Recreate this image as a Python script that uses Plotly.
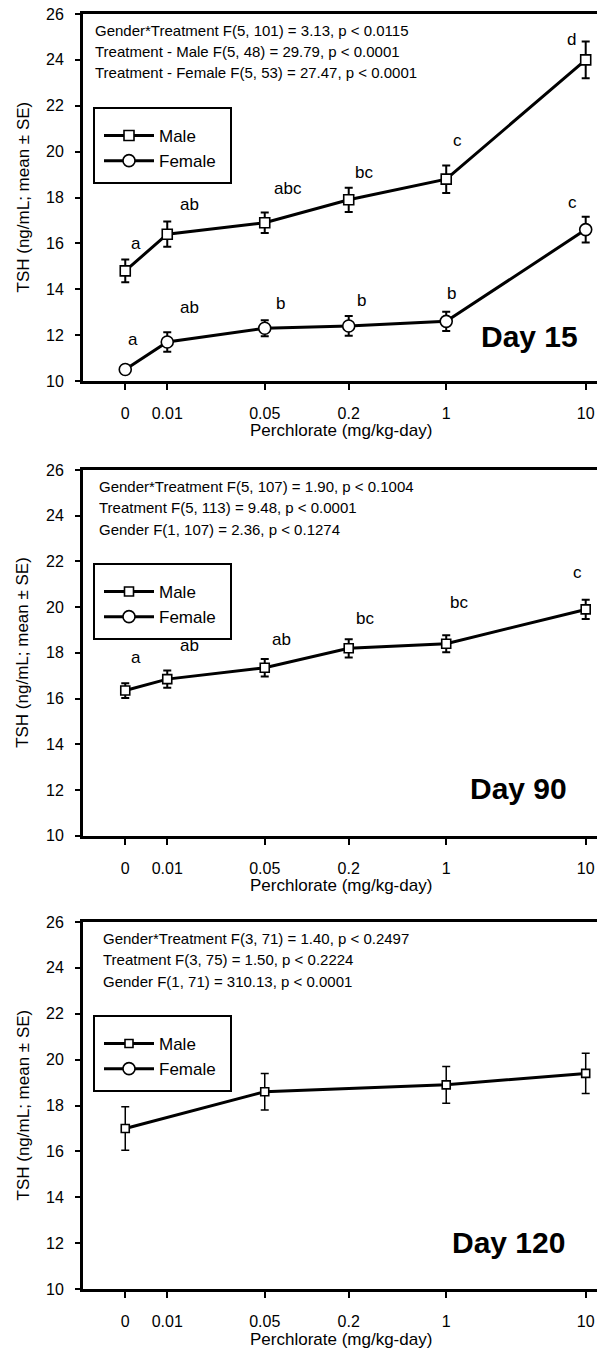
import math
import plotly.graph_objects as go

# ---------------- data ----------------
doses = [0, 0.01, 0.05, 0.2, 1, 10]
dose_labels = ["0", "0.01", "0.05", "0.2", "1", "10"]

d15_male = [14.8, 16.4, 16.9, 17.9, 18.8, 24.0]
d15_male_se = [0.5, 0.55, 0.45, 0.53, 0.6, 0.8]
d15_female = [10.5, 11.7, 12.3, 12.4, 12.6, 16.6]
d15_female_se = [0.2, 0.42, 0.35, 0.43, 0.42, 0.56]

d90_doses = [0, 0.01, 0.05, 0.2, 1, 10]
d90_male = [16.35, 16.85, 17.35, 18.2, 18.4, 19.9]
d90_male_se = [0.32, 0.38, 0.38, 0.4, 0.37, 0.42]

d120_doses = [0, 0.05, 1, 10]
d120_male = [17.0, 18.6, 18.9, 19.4]
d120_male_se = [0.95, 0.8, 0.8, 0.88]

d15_male_letters = ["a", "ab", "abc", "bc", "c", "d"]
d15_female_letters = ["a", "ab", "b", "b", "b", "c"]
d90_letters = ["a", "ab", "ab", "bc", "bc", "c"]

stats_d15 = ["Gender*Treatment F(5, 101) = 3.13, p &lt; 0.0115",
             "Treatment - Male F(5, 48) = 29.79, p &lt; 0.0001",
             "Treatment - Female F(5, 53) = 27.47, p &lt; 0.0001"]
stats_d90 = ["Gender*Treatment F(5, 107) = 1.90, p &lt; 0.1004",
             "Treatment F(5, 113) = 9.48, p &lt; 0.0001",
             "Gender F(1, 107) = 2.36, p &lt; 0.1274"]
stats_d120 = ["Gender*Treatment F(3, 71) = 1.40, p &lt; 0.2497",
              "Treatment F(3, 75) = 1.50, p &lt; 0.2224",
              "Gender F(1, 71) = 310.13, p &lt; 0.0001"]

# ---------------- layout / style ----------------
W, H = 597, 1351
# plot area in page pixels
PX_L, PX_R, PX_T, PX_B = 83, 597, 14, 1289
ML, MT, MR, MB = PX_L, PX_T, W - PX_R, H - PX_B
PW = PX_R - PX_L
PH = PX_B - PX_T
ZERO_POS = 0.005  # where the control (0) dose is placed on the log axis
FONT = "Liberation Sans, Arial, sans-serif"


def fx(px):
    return (px - PX_L) / PW


def fy(py):
    return (PX_B - py) / PH


def xp(d):
    return d if d > 0 else ZERO_POS


# panel pixel geometry: (top, bottom)
panels = [(14, 381), (470, 835.7), (922, 1289)]

# letter label placement (y value, x shift px)
pos_d15_m = [(16.0, 11), (17.7, 22), (18.4, 23), (19.1, 15), (20.5, 11), (24.9, -14)]
pos_d15_f = [(11.8, 8), (13.2, 22), (13.4, 16), (13.5, 13), (13.8, 5), (17.8, -13)]
pos_d90 = [(17.8, 11), (18.3, 22), (18.6, 17), (19.5, 16), (20.2, 13), (21.5, -8)]

fig = go.Figure()


def add_series(x, y, se, name, symbol, msize, axis_i, legend, ebw=2, lw=3):
    xa = "x" if axis_i == 1 else f"x{axis_i}"
    ya = "y" if axis_i == 1 else f"y{axis_i}"
    fig.add_trace(go.Scatter(
        x=[xp(d) for d in x] if x else [None], y=y if y else [None],
        error_y=dict(type="data", array=se, thickness=ebw, width=4, color="black") if se else None,
        mode="lines+markers", name=name,
        line=dict(color="black", width=lw),
        marker=dict(symbol=symbol, size=msize, color="white", line=dict(color="black", width=1.6)),
        xaxis=xa, yaxis=ya, legend=legend, showlegend=True))


add_series(doses, d15_male, d15_male_se, "Male", "square", 10, 1, "legend")
add_series(doses, d15_female, d15_female_se, "Female", "circle", 12, 1, "legend")
add_series(d90_doses, d90_male, d90_male_se, "Male", "square", 9, 2, "legend2")
add_series(None, None, None, "Female", "circle", 12, 2, "legend2")
add_series(d120_doses, d120_male, d120_male_se, "Male", "square", 8, 3, "legend3", ebw=1.5)
add_series(None, None, None, "Female", "circle", 12, 3, "legend3")

axis_common = dict(showgrid=False, zeroline=False, showline=True, linecolor="black",
                   linewidth=3, ticks="outside", tickcolor="black", tickwidth=2)

annotations = []
shapes = []
legends = {}
for i, (top, bot) in enumerate(panels, start=1):
    sfx = "" if i == 1 else str(i)
    fig.layout[f"xaxis{sfx}"] = dict(
        type="log", range=[-2.604, 1.081], domain=[0, 1], anchor=f"y{sfx}",
        tickvals=[xp(d) for d in doses], ticktext=dose_labels, mirror=True,
        ticklen=6, ticklabelstandoff=10, tickfont=dict(size=16, family=FONT, color="black"),
        **axis_common)
    fig.layout[f"yaxis{sfx}"] = dict(
        range=[10, 26], domain=[fy(bot), fy(top)], anchor=f"x{sfx}",
        tickvals=list(range(10, 27, 2)), ticklen=5, ticklabelstandoff=8,
        tickfont=dict(size=16, family=FONT, color="black"), **axis_common)
    # y title
    annotations.append(dict(text="TSH (ng/mL; mean ± SE)", xref="paper", yref="paper",
                            x=fx(23), y=fy((top + bot) / 2), textangle=-90, showarrow=False,
                            font=dict(size=17, family=FONT, color="black"),
                            xanchor="center", yanchor="middle"))
    # x title
    annotations.append(dict(text="Perchlorate (mg/kg-day)", xref="paper", yref="paper",
                            x=fx(341), y=fy(bot + 50), showarrow=False,
                            font=dict(size=17, family=FONT, color="black"),
                            xanchor="center", yanchor="middle"))
    # legend box
    shapes.append(dict(type="rect", xref="paper", yref="paper",
                       x0=fx(94), x1=fx(231), y0=fy(top + 94), y1=fy(top + 169),
                       line=dict(color="black", width=2), fillcolor="rgba(0,0,0,0)"))
    legends["legend" if i == 1 else f"legend{i}"] = dict(
        x=fx(99), y=fy(top + 104), xanchor="left", yanchor="top",
        bgcolor="rgba(0,0,0,0)", borderwidth=0, itemwidth=50,
        font=dict(size=17, family=FONT, color="black"), tracegroupgap=0)

# stats text
for (top, bot), lines, x0 in zip(panels, [stats_d15, stats_d90, stats_d120], [93, 97, 101]):
    for k, t in enumerate(lines):
        annotations.append(dict(text=t, xref="paper", yref="paper", x=fx(x0),
                                y=fy(top + [16, 37, 59][k]), showarrow=False,
                                xanchor="left", yanchor="middle",
                                font=dict(size=15, family=FONT, color="black")))

# Day labels
for (top, bot), t, right, dy in zip(panels, ["Day 15", "Day 90", "Day 120"], [580, 569, 567], [44, 47, 47]):
    annotations.append(dict(text=f"<b>{t}</b>", xref="paper", yref="paper", x=fx(right),
                            y=fy(bot - dy), showarrow=False, xanchor="right", yanchor="middle",
                            font=dict(size=30, family=FONT, color="black")))

# significance letters
for letters, pos, xs, xa, ya in [(d15_male_letters, pos_d15_m, doses, "x", "y"),
                                 (d15_female_letters, pos_d15_f, doses, "x", "y"),
                                 (d90_letters, pos_d90, d90_doses, "x2", "y2")]:
    for L, (yv, sh), d in zip(letters, pos, xs):
        annotations.append(dict(text=L, x=math.log10(xp(d)), y=yv, xref=xa, yref=ya,
                                xshift=sh, showarrow=False, xanchor="center", yanchor="middle",
                                font=dict(size=17, family=FONT, color="black")))

fig.update_layout(width=W, height=H, margin=dict(l=ML, r=MR, t=MT, b=MB),
                  plot_bgcolor="white", paper_bgcolor="white",
                  annotations=annotations, shapes=shapes, **legends,
                  font=dict(family=FONT, color="black"))

# remove the page's default body margin so the figure fills the window exactly
fig.write_html("out.html", config={"displayModeBar": False},
               post_script="document.body.style.margin='0px';document.body.style.overflow='hidden';")
